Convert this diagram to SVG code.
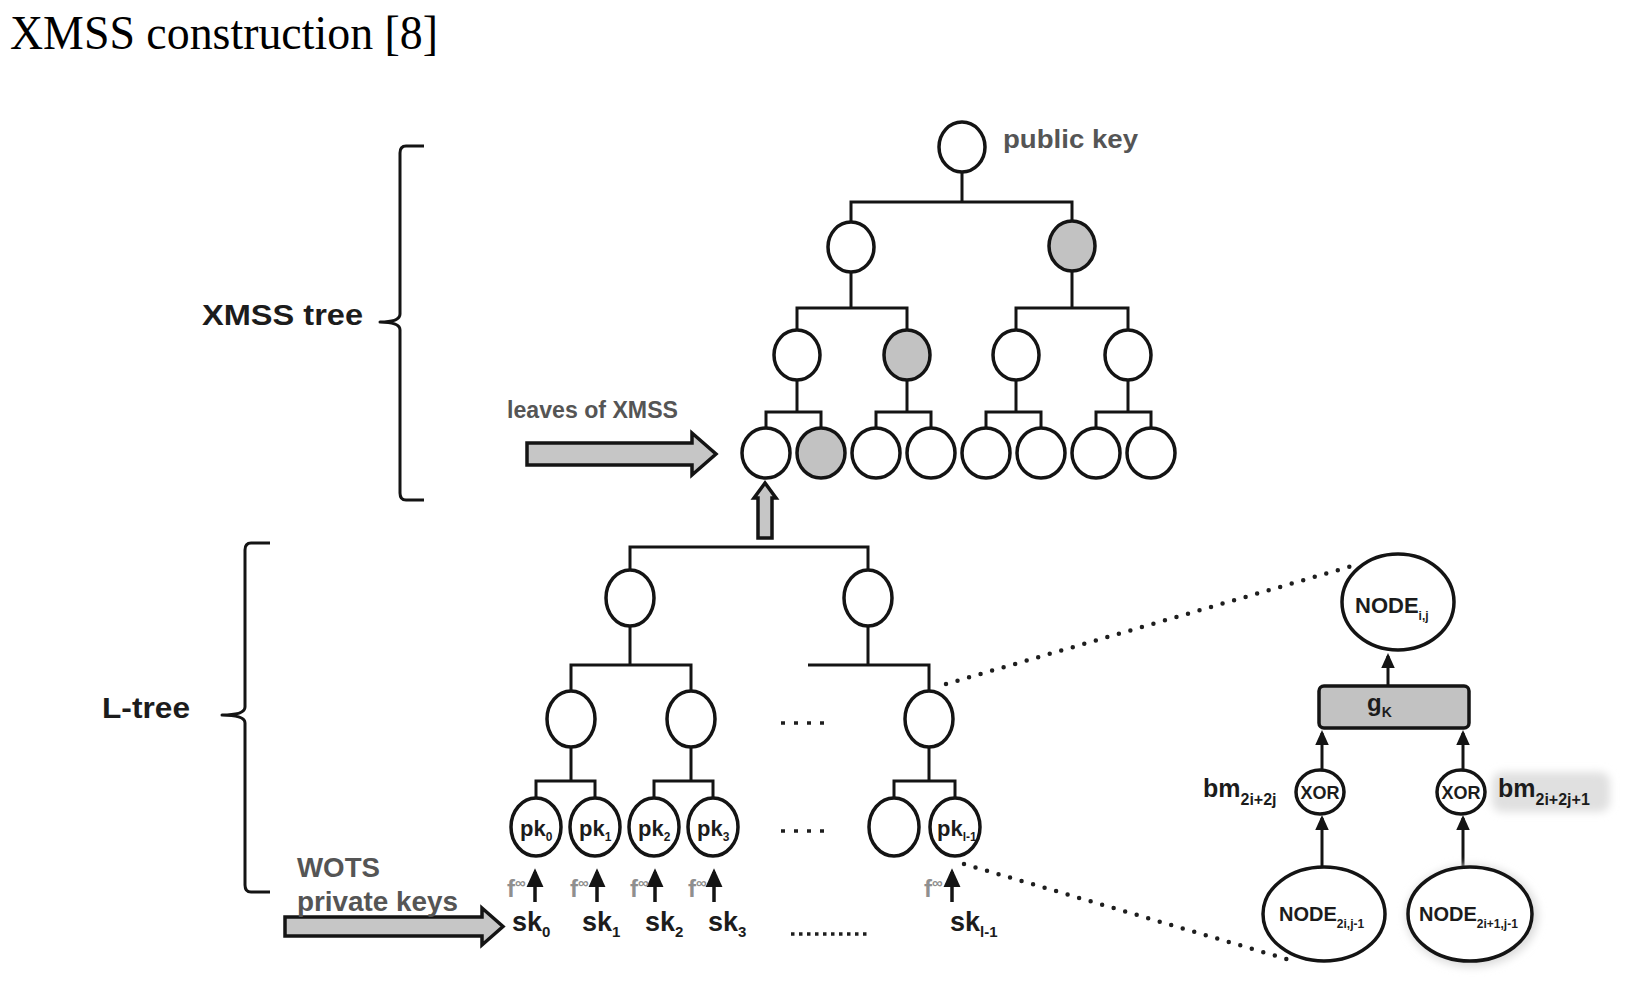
<svg xmlns="http://www.w3.org/2000/svg" width="1639" height="992" viewBox="0 0 1639 992">
<style>
  .n{fill:#fff;stroke:#141414;stroke-width:3.5}
  .sh{fill:#c2c2c2;stroke:#141414;stroke-width:3.5}
  .ln{fill:none;stroke:#141414;stroke-width:3}
  .br{fill:none;stroke:#141414;stroke-width:3;stroke-linejoin:round}
  .big{fill:#c6c6c6;stroke:#141414;stroke-width:3.5;stroke-linejoin:miter}
  .ar{fill:none;stroke:#141414;stroke-width:3.5}
  .ar2{fill:none;stroke:#141414;stroke-width:3}
  .dot{fill:none;stroke:#1e1e1e;stroke-width:4.5;stroke-linecap:round;stroke-dasharray:0 12}
  .dd{fill:none;stroke:#1e1e1e;stroke-width:3.5;stroke-dasharray:4 9}
  .dd2{fill:none;stroke:#1e1e1e;stroke-width:3.5;stroke-dasharray:3.5 4.5}
  .t{font-family:"Liberation Sans",Arial,sans-serif;font-weight:bold;fill:#1c1c1c}
  .g{font-family:"Liberation Sans",Arial,sans-serif;font-weight:bold;fill:#555}
  .sq{font-family:"Liberation Sans",Arial,sans-serif;font-weight:bold;fill:#8f8f8f;font-size:24px}
  .title{font-family:"Liberation Serif","DejaVu Serif",serif;fill:#000;font-size:48px}
</style>
<defs>
  <marker id="ah" viewBox="0 0 10 10" refX="8" refY="5" markerWidth="19" markerHeight="19" markerUnits="userSpaceOnUse" orient="auto">
    <path d="M0,0.5 L10,5 L0,9.5 z" fill="#141414"/>
  </marker>
  <marker id="ah2" viewBox="0 0 10 10" refX="8" refY="5" markerWidth="15" markerHeight="15" markerUnits="userSpaceOnUse" orient="auto">
    <path d="M0,0.5 L10,5 L0,9.5 z" fill="#141414"/>
  </marker>
  <filter id="blur" x="-20%" y="-50%" width="140%" height="200%"><feGaussianBlur stdDeviation="4"/></filter>
</defs>

<text class="title" x="10" y="49" textLength="428" lengthAdjust="spacingAndGlyphs">XMSS construction [8]</text>

<!-- braces and side labels -->
<g id="brace-xmss">
  <path class="br" d="M424,146 L406,146 Q400,146 400,153 L400,314 Q400,322 380,322 Q400,322 400,330 L400,493 Q400,500 406,500 L424,500"/>
  <text class="t" x="202" y="325" font-size="30" textLength="161" lengthAdjust="spacingAndGlyphs">XMSS tree</text>
</g>
<g id="brace-ltree">
  <path class="br" d="M270,543 L251,543 Q245,543 245,550 L245,707 Q245,715 222,715 Q245,715 245,723 L245,885 Q245,892 251,892 L270,892"/>
  <text class="t" x="102" y="718" font-size="30" textLength="88" lengthAdjust="spacingAndGlyphs">L-tree</text>
</g>

<!-- connectors -->
<g id="connectors">
  <!-- XMSS tree -->
  <path class="ln" d="M962,172 V202 M851,222 V202 H1072 V221"/>
  <path class="ln" d="M851,272 V308 M797,330 V308 H907 V330"/>
  <path class="ln" d="M1072,271 V308 M1016,330 V308 H1128 V330"/>
  <path class="ln" d="M797,380 V412 M766,428 V412 H821 V428"/>
  <path class="ln" d="M907,380 V412 M876,428 V412 H931 V428"/>
  <path class="ln" d="M1016,380 V412 M986,428 V412 H1041 V428"/>
  <path class="ln" d="M1128,380 V412 M1096,428 V412 H1151 V428"/>
  <!-- L-tree -->
  <path class="ln" d="M630,570 V547 H868 V570"/>
  <path class="ln" d="M630,626 V665 M571,691 V665 H691 V691"/>
  <path class="ln" d="M868,626 V665 M808,665 H929 V691"/>
  <path class="ln" d="M571,747 V781 M536,799 V781 H595 V799"/>
  <path class="ln" d="M691,747 V781 M654,799 V781 H713 V799"/>
  <path class="ln" d="M929,747 V781 M894,799 V781 H955 V799"/>
  <!-- dots -->
  <line class="dd" x1="781" y1="723" x2="832" y2="723"/>
  <line class="dd" x1="781" y1="831" x2="832" y2="831"/>
  <line class="dd2" x1="791" y1="934" x2="868" y2="934"/>
  <!-- sk -> pk arrows -->
  <line class="ar" x1="535" y1="902" x2="535" y2="872" marker-end="url(#ah)"/>
  <line class="ar" x1="597" y1="902" x2="597" y2="872" marker-end="url(#ah)"/>
  <line class="ar" x1="655" y1="902" x2="655" y2="872" marker-end="url(#ah)"/>
  <line class="ar" x1="714" y1="902" x2="714" y2="872" marker-end="url(#ah)"/>
  <line class="ar" x1="952" y1="902" x2="952" y2="872" marker-end="url(#ah)"/>
  <!-- big hollow arrows -->
  <path class="big" d="M527,443 H692 V433 L716,454 L692,475 V465 H527 Z"/>
  <path class="big" d="M758,538 V498 H754 L765,483 L776,498 H772 V538 Z"/>
  <path class="big" d="M285,917 H482 V908 L503,926.5 L482,945 V936 H285 Z"/>
  <!-- zoom dotted lines -->
  <line class="dot" x1="946" y1="684" x2="1352" y2="566"/>
  <line class="dot" x1="964" y1="864" x2="1290" y2="960"/>
  <!-- detail arrows -->
  <line class="ar2" x1="1388" y1="686" x2="1388" y2="656" marker-end="url(#ah2)"/>
  <line class="ar2" x1="1322" y1="771" x2="1322" y2="733" marker-end="url(#ah2)"/>
  <line class="ar2" x1="1463" y1="771" x2="1463" y2="733" marker-end="url(#ah2)"/>
  <line class="ar2" x1="1322" y1="867" x2="1322" y2="818" marker-end="url(#ah2)"/>
  <line class="ar2" x1="1463" y1="867" x2="1463" y2="818" marker-end="url(#ah2)"/>
</g>

<!-- XMSS tree nodes -->
<g id="root"><ellipse class="n" cx="962" cy="147" rx="23" ry="25"/>
  <text class="g" x="1003" y="148" font-size="26" textLength="135" lengthAdjust="spacingAndGlyphs">public key</text></g>
<g id="x1a"><ellipse class="n" cx="851" cy="247" rx="23" ry="25"/></g>
<g id="x1b"><ellipse class="sh" cx="1072" cy="246" rx="23" ry="25"/></g>
<g id="x2a"><ellipse class="n" cx="797" cy="355" rx="23" ry="25"/></g>
<g id="x2b"><ellipse class="sh" cx="907" cy="355" rx="23" ry="25"/></g>
<g id="x2c"><ellipse class="n" cx="1016" cy="355" rx="23" ry="25"/></g>
<g id="x2d"><ellipse class="n" cx="1128" cy="355" rx="23" ry="25"/></g>
<g id="leaf0"><ellipse class="n" cx="766" cy="453" rx="24" ry="25"/></g>
<g id="leaf1"><ellipse class="sh" cx="821" cy="453" rx="24" ry="25"/></g>
<g id="leaf2"><ellipse class="n" cx="876" cy="453" rx="24" ry="25"/></g>
<g id="leaf3"><ellipse class="n" cx="931" cy="453" rx="24" ry="25"/></g>
<g id="leaf4"><ellipse class="n" cx="986" cy="453" rx="24" ry="25"/></g>
<g id="leaf5"><ellipse class="n" cx="1041" cy="453" rx="24" ry="25"/></g>
<g id="leaf6"><ellipse class="n" cx="1096" cy="453" rx="24" ry="25"/></g>
<g id="leaf7"><ellipse class="n" cx="1151" cy="453" rx="24" ry="25"/></g>
<g id="label-leaves"><text class="g" x="507" y="418" font-size="23" textLength="171" lengthAdjust="spacingAndGlyphs">leaves of XMSS</text></g>

<!-- L-tree nodes -->
<g id="l1a"><ellipse class="n" cx="630" cy="598" rx="24" ry="28"/></g>
<g id="l1b"><ellipse class="n" cx="868" cy="598" rx="24" ry="28"/></g>
<g id="l2a"><ellipse class="n" cx="571" cy="719" rx="24" ry="28"/></g>
<g id="l2b"><ellipse class="n" cx="691" cy="719" rx="24" ry="28"/></g>
<g id="l2c"><ellipse class="n" cx="929" cy="719" rx="24" ry="28"/></g>
<g id="pk0"><ellipse class="n" cx="536" cy="827" rx="25" ry="29"/><text class="t" x="520" y="836" font-size="22">pk<tspan font-size="12" dy="5">0</tspan></text></g>
<g id="pk1"><ellipse class="n" cx="595" cy="827" rx="25" ry="29"/><text class="t" x="579" y="836" font-size="22">pk<tspan font-size="12" dy="5">1</tspan></text></g>
<g id="pk2"><ellipse class="n" cx="654" cy="827" rx="25" ry="29"/><text class="t" x="638" y="836" font-size="22">pk<tspan font-size="12" dy="5">2</tspan></text></g>
<g id="pk3"><ellipse class="n" cx="713" cy="827" rx="25" ry="29"/><text class="t" x="697" y="836" font-size="22">pk<tspan font-size="12" dy="5">3</tspan></text></g>
<g id="pkx"><ellipse class="n" cx="894" cy="827" rx="25" ry="29"/></g>
<g id="pkl"><ellipse class="n" cx="955" cy="827" rx="25" ry="29"/><text class="t" x="937" y="836" font-size="22">pk<tspan font-size="12" dy="5">l-1</tspan></text></g>

<!-- sk labels -->
<g id="sk0"><text class="sq" x="507" y="897">f<tspan font-size="15" dy="-9">∞</tspan></text><text class="t" x="512" y="931" font-size="27">sk<tspan font-size="15" dy="6">0</tspan></text></g>
<g id="sk1"><text class="sq" x="570" y="897">f<tspan font-size="15" dy="-9">∞</tspan></text><text class="t" x="582" y="931" font-size="27">sk<tspan font-size="15" dy="6">1</tspan></text></g>
<g id="sk2"><text class="sq" x="630" y="897">f<tspan font-size="15" dy="-9">∞</tspan></text><text class="t" x="645" y="931" font-size="27">sk<tspan font-size="15" dy="6">2</tspan></text></g>
<g id="sk3"><text class="sq" x="688" y="897">f<tspan font-size="15" dy="-9">∞</tspan></text><text class="t" x="708" y="931" font-size="27">sk<tspan font-size="15" dy="6">3</tspan></text></g>
<g id="skl"><text class="sq" x="924" y="897">f<tspan font-size="15" dy="-9">∞</tspan></text><text class="t" x="950" y="931" font-size="27">sk<tspan font-size="15" dy="6">l-1</tspan></text></g>

<g id="label-wots">
  <text class="g" x="297" y="877" font-size="27" textLength="83" lengthAdjust="spacingAndGlyphs">WOTS</text>
  <text class="g" x="297" y="911" font-size="27" textLength="161" lengthAdjust="spacingAndGlyphs">private keys</text>
</g>

<!-- detail -->
<g id="node-ij"><ellipse class="n" cx="1398" cy="602" rx="56" ry="48"/>
  <text class="t" x="1355" y="613" font-size="22">NODE<tspan font-size="12" dy="7">i,j</tspan></text></g>
<g id="gk"><rect x="1319" y="686" width="150" height="42" rx="5" fill="#c2c2c2" stroke="#141414" stroke-width="3.5"/>
  <text class="t" x="1367" y="711" font-size="24">g<tspan font-size="14" dy="6">K</tspan></text></g>
<g id="xor-left"><ellipse class="n" cx="1320" cy="792" rx="24" ry="22"/>
  <text class="t" x="1320" y="799" font-size="18" text-anchor="middle">XOR</text>
  <text class="t" x="1203" y="797" font-size="25">bm<tspan font-size="16" dy="8">2i+2j</tspan></text></g>
<g id="xor-right">
  <rect x="1492" y="772" width="118" height="40" rx="10" fill="#e0e0e0" filter="url(#blur)"/>
  <ellipse class="n" cx="1461" cy="792" rx="24" ry="22"/>
  <text class="t" x="1461" y="799" font-size="18" text-anchor="middle">XOR</text>
  <text class="t" x="1498" y="797" font-size="25">bm<tspan font-size="16" dy="8">2i+2j+1</tspan></text></g>
<g id="node-2i"><ellipse class="n" cx="1324" cy="914" rx="61" ry="47"/>
  <text class="t" x="1279" y="921" font-size="20">NODE<tspan font-size="12" dy="7">2i,j-1</tspan></text></g>
<g id="node-2i1">
  <ellipse cx="1472" cy="916" rx="66" ry="51" fill="#dcdcdc" filter="url(#blur)"/>
  <ellipse class="n" cx="1470" cy="914" rx="62" ry="47"/>
  <text class="t" x="1419" y="921" font-size="20">NODE<tspan font-size="12" dy="7">2i+1,j-1</tspan></text></g>
</svg>
